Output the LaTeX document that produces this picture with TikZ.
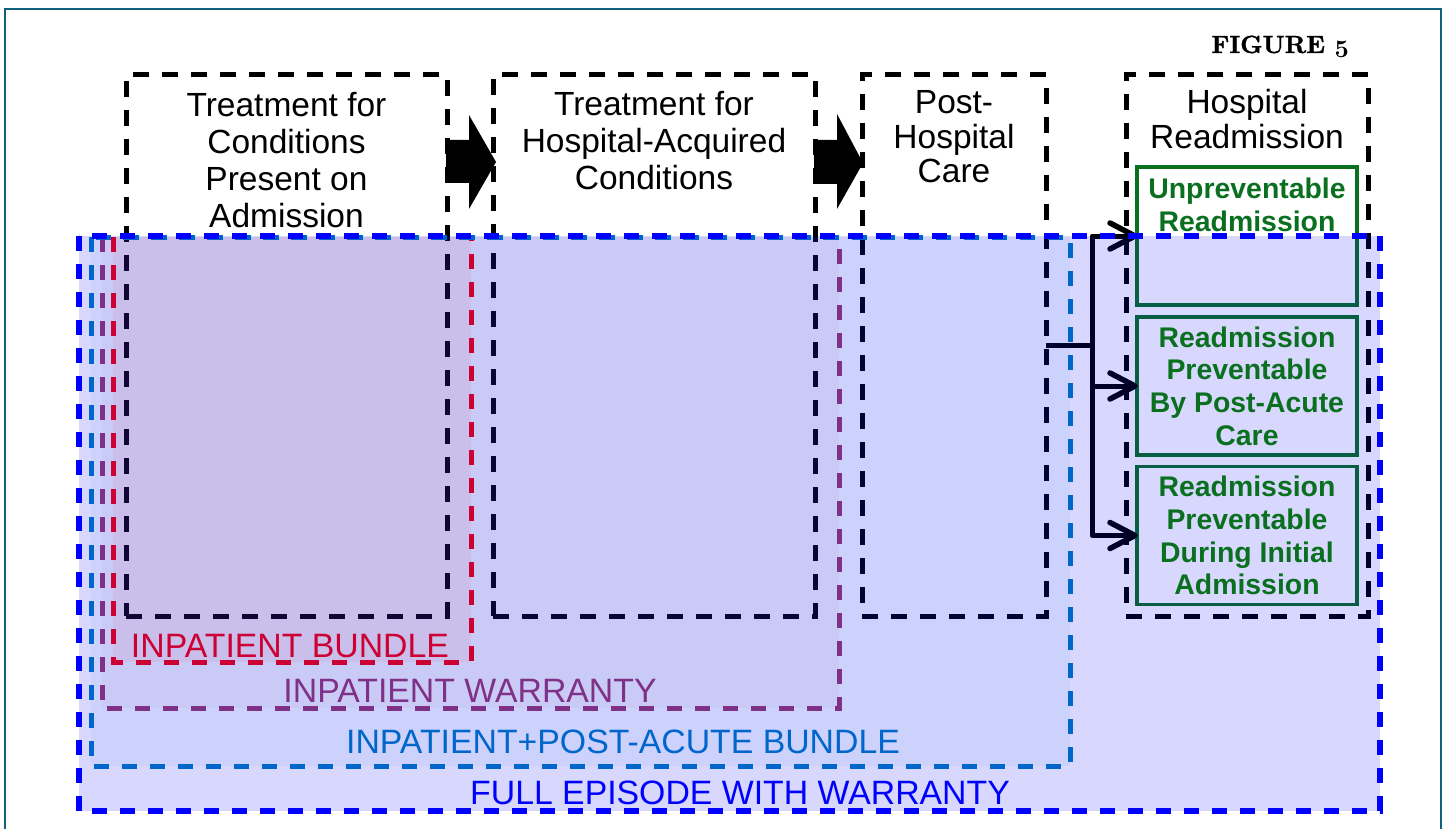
\documentclass[tikz,border=0pt]{standalone}
\usepackage{fontspec}
\newfontfamily\arialf{Liberation Sans}
\newfontfamily\figfont[FakeBold=1.2]{lmroman10-bold.otf}
\usetikzlibrary{calc}

\definecolor{frameteal}{HTML}{10607A}
\definecolor{grn}{HTML}{0A7020}
\definecolor{ipred}{HTML}{CC0033}
\definecolor{ippurple}{HTML}{7F3087}
\definecolor{iplblue}{HTML}{0066CC}
\definecolor{ipblue}{HTML}{0000FF}

\newcommand{\oldfive}{{\fontencoding{OML}\fontfamily{cmm}\fontseries{b}\fontshape{it}\selectfont 5}}

\tikzset{
  stagebox/.style={draw=black, line width=5pt, dash pattern=on 16pt off 13pt,
    inner sep=0pt, outer sep=0pt, minimum height=541pt},
  stagetext/.style={font=\arialf\fontsize{33.5}{37}\selectfont, align=center, inner sep=0pt},
  greenbox/.style={draw=grn, line width=3.4pt, inner sep=0pt, outer sep=0pt,
    minimum width=220pt, minimum height=138pt},
  greentext/.style={font=\arialf\bfseries\fontsize{28.4}{32.7}\selectfont, text=grn,
    align=center, inner sep=0pt},
  conn/.style={line width=5pt, draw=black, line join=round},
  chevron/.style={line width=5.5pt, draw=black, line join=round, line cap=round},
  region/.style={inner sep=0pt, outer sep=0pt},
  regionline/.style={line width=5pt, dash pattern=on 15pt off 13pt},
  lbl/.style={font=\arialf\fontsize{33.8}{38}\selectfont, inner sep=0pt, anchor=base},
}

\begin{document}
\begin{tikzpicture}[x=1pt, y=-1pt]
\useasboundingbox (0,0) rectangle (1445,829);

% outer frame
\draw[frameteal, line width=2pt] (5,829) -- (5,9) -- (1441,9) -- (1441,829);

\node[font=\figfont\fontsize{24.88}{28}\selectfont, inner sep=0pt, anchor=base east]
  (fig) at (1349,53) {FIGURE \oldfive};

% stages of the episode
\node[stagebox, minimum width=321pt] (b1) at (286.5,345.5) {};
\node[stagebox, minimum width=322pt] (b2) at (654,345.5) {};
\node[stagebox, minimum width=184pt] (b3) at (954,345.5) {};
\node[stagebox, minimum width=242pt] (b4) at (1247,345.5) {};

\node[stagetext] (t1) at (286.5,160) {Treatment for\\Conditions\\Present on\\Admission};
\node[stagetext] (t2) at (654,141) {Treatment for\\Hospital-Acquired\\Conditions};
\node[stagetext, font=\arialf\fontsize{33.5}{34.5}\selectfont] (t3) at (954,137) {Post-\\Hospital\\Care};
\node[stagetext, font=\arialf\fontsize{33.5}{35}\selectfont] (t4) at (1247,119) {Hospital\\Readmission};

% block arrows between stages
\fill[black] (446,140) -- (469,140) -- (469,115) -- (496,162) -- (469,209) -- (469,183) -- (446,183) -- cycle;
\fill[black] (814,140) -- (837,140) -- (837,114) -- (863,163) -- (837,209) -- (837,184) -- (814,184) -- cycle;

% readmission categories (frames)
\node[greenbox] (gA) at (1247,236) {};
\node[greenbox] (gB) at (1247,386) {};
\node[greenbox] (gC) at (1247,535.5) {};
\node[greentext] (tA) at (1247,205) {Unpreventable\\Readmission};

% connectors from post-hospital care
\coordinate (sp) at (1092,345.5);
\draw[conn] (b3.east) -- (sp);
\foreach \g in {gA,gB,gC} {
  \draw[conn] (sp) |- ($(\g.west)+(-3,0)$);
  \draw[chevron] ($(\g.west)+(-27,-13)$) -- ($(\g.west)+(-2,0)$) -- ($(\g.west)+(-27,13)$);
}

% payment scopes: fills
\node[region, fill=ipblue, fill opacity=0.153, minimum width=1301pt, minimum height=575pt] (full) at (729.5,523.5) {};
\node[region, fill=iplblue, fill opacity=0.05, minimum width=979pt, minimum height=529pt] (ipab) at (580.5,501.5) {};
\node[region, fill=ippurple, fill opacity=0.05, minimum width=737pt, minimum height=471pt] (ipw) at (470.5,472.5) {};
\node[region, fill=ipred, fill opacity=0.06, minimum width=358pt, minimum height=425pt] (ipb) at (292,449.5) {};

% payment scopes: outlines
\draw[regionline, ipred] (ipb.north west) rectangle (ipb.south east);
\draw[regionline, ippurple] (ipw.north west) rectangle (ipw.south east);
\draw[regionline, iplblue] (ipab.north west) rectangle (ipab.south east);
\draw[regionline, ipblue, line width=5.2pt] (full.north west) rectangle (full.south east);

% readmission category texts
\node[greentext] (tB) at (gB.center) {Readmission\\Preventable\\By Post-Acute\\Care};
\node[greentext] (tC) at (gC.center) {Readmission\\Preventable\\During Initial\\Admission};

% payment scope labels
\node[lbl, text=ipred] (lb1) at (290,657) {INPATIENT BUNDLE};
\node[lbl, text=ippurple] (lb2) at (470,702) {INPATIENT WARRANTY};
\node[lbl, text=iplblue] (lb3) at (623,753) {INPATIENT+POST-ACUTE BUNDLE};
\node[lbl, text=ipblue] (lb4) at (740,804) {FULL EPISODE WITH WARRANTY};
\end{tikzpicture}
\end{document}
